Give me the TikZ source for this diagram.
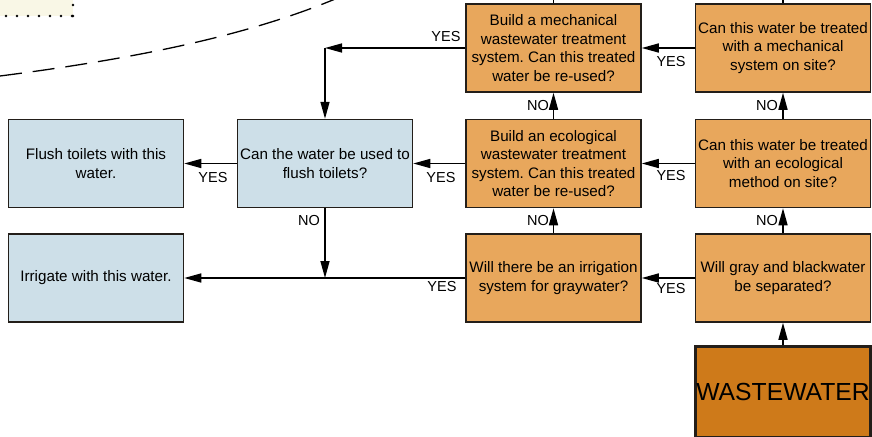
\documentclass[tikz,border=0pt]{standalone}
\usepackage{fontspec}
\setmainfont{Liberation Sans}
\frenchspacing
\definecolor{StepFill}{RGB}{232,167,92}
\definecolor{EndFill}{RGB}{205,223,232}
\definecolor{SourceFill}{RGB}{206,122,26}
\definecolor{NoteFill}{RGB}{249,247,230}
\definecolor{BoxBorder}{RGB}{35,30,25}
\usepackage{tikz}
\usetikzlibrary{
  positioning,
  arrows.meta
}
\tikzset{
  % Question / treatment step
  qbox/.style={
    rectangle,
    draw=BoxBorder,
    fill=StepFill,
    line width=1.5pt,
    minimum width=175pt,
    minimum height=88pt,
    inner sep=0pt,
    align=center,
    font=\fontsize{15.2}{18.6}\selectfont
  },
  % Final use of the water
  abox/.style={
    qbox,
    fill=EndFill
  },
  % Source of the water
  sbox/.style={
    qbox,
    fill=SourceFill,
    line width=3pt,
    minimum height=91pt,
    font=\fontsize{24.7}{28}\selectfont
  },
  % Directed edge
  dedge/.style={
    draw=black,
    line width=1.5pt,
    -{Triangle[length=17pt,width=9pt]}
  },
  % Plain edge
  edge/.style={
    draw=black,
    line width=1.5pt
  },
  % Edge label
  elabel/.style={
    font=\fontsize{14.5}{16}\selectfont,
    inner sep=0pt
  }
}

\begin{document}
\begin{tikzpicture}[x=1pt,y=-1pt]
  \useasboundingbox (0,0) rectangle (872,436);
  \clip (0,0) rectangle (872,436);

  % note box and boundary at the top left
  \draw[fill=NoteFill, line width=2.6pt, line cap=round,
        dash pattern=on 0pt off 11pt] (73,16) -- (73,-30) -- (-30,-30) -- (-30,16) -- cycle;
  \draw[line width=1.3pt, dash pattern=on 22pt off 11pt]
    (0,76) .. controls (140,58) and (250,35) .. (340,-3);

  % steps
  \node[qbox] (mb) at (553.5,48)  {Build a mechanical\\wastewater treatment\\system. Can this treated\\water be re-used?};
  \node[qbox] (mq) at (783,48)    {Can this water be treated\\with a mechanical\\system on site?};
  \node[qbox] (eb) at (553.5,163.5) {Build an ecological\\wastewater treatment\\system. Can this treated\\water be re-used?};
  \node[qbox] (eq) at (783,163.5) {Can this water be treated\\with an ecological\\method on site?};
  \node[qbox] (iq) at (553.5,278) {Will there be an irrigation\\system for graywater?};
  \node[qbox] (sq) at (783,278)   {Will gray and blackwater\\be separated?};
  \node[abox] (fq) at (325,163.5) {Can the water be used to\\flush toilets?};
  \node[abox] (ft) at (96,163.5)  {Flush toilets with this\\water.};
  \node[abox] (ir) at (96,278)    {Irrigate with this water.};
  \node[sbox] (ww) at (783,392)   {WASTEWATER};

  \coordinate (c1) at (325,48);
  \coordinate (c2) at (325,278);
  \coordinate (t1) at (553.5,-5);
  \coordinate (t2) at (783,-5);

  % connectors
  \draw[edge] (mb.north) -- (t1);
  \draw[edge] (mq.north) -- (t2);
  \draw[dedge] (ww) -- (sq);
  \draw[dedge] (sq) -- (eq);
  \draw[dedge] (eq) -- (mq);
  \draw[dedge] (iq) -- (eb);
  \draw[dedge] (eb) -- (mb);
  \draw[dedge] (mq) -- (mb);
  \draw[dedge] (eq) -- (eb);
  \draw[dedge] (sq) -- (iq);
  \draw[dedge] (eb) -- (fq);
  \draw[dedge] (fq) -- (ft);
  \draw[dedge] (mb.west) -- (c1);
  \draw[dedge] (c1) -- (fq);
  \draw[dedge] (fq) -- (c2);
  \draw[edge] (iq.west) -- (c2);
  \draw[dedge] (c2) -- (ir);

  % labels
  \node[elabel] (y1) at (446,37)  {YES};
  \node[elabel] (y2) at (671,62)  {YES};
  \node[elabel] (y3) at (671,176) {YES};
  \node[elabel] (y4) at (441,178) {YES};
  \node[elabel] (y5) at (213,178) {YES};
  \node[elabel] (y6) at (442,287) {YES};
  \node[elabel] (y7) at (671,289) {YES};
  \node[elabel] (n1) at (538,106) {NO};
  \node[elabel] (n2) at (767,106) {NO};
  \node[elabel] (n3) at (538,221) {NO};
  \node[elabel] (n4) at (767,221) {NO};
  \node[elabel] (n5) at (309,221) {NO};
\end{tikzpicture}
\end{document}
